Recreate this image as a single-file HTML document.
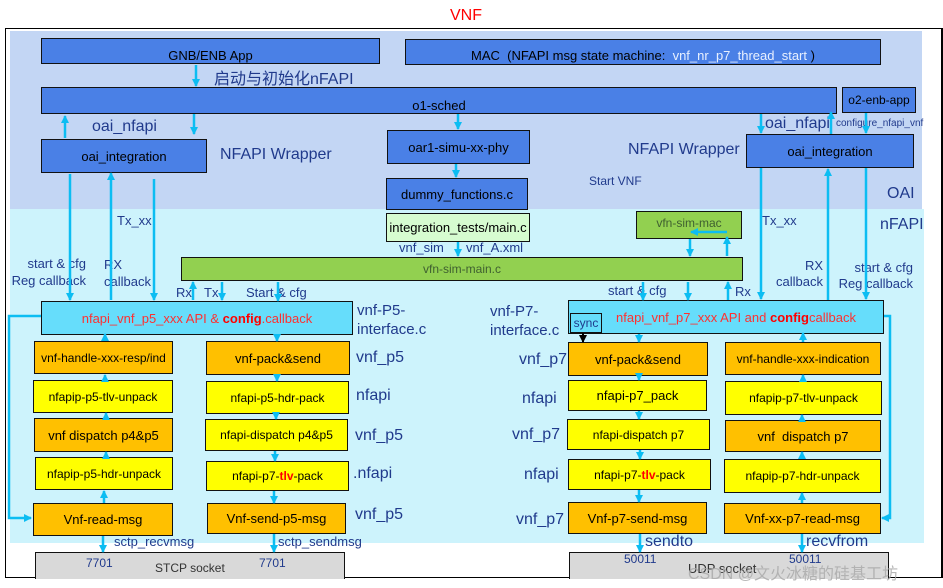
<!DOCTYPE html>
<html><head><meta charset="utf-8"><style>
*{margin:0;padding:0;box-sizing:border-box}
body{width:943px;height:588px;background:#fff;position:relative;overflow:hidden;font-family:"Liberation Sans","Noto Sans CJK SC",sans-serif}
.a{position:absolute}
.b{position:absolute;border:1.5px solid #111;display:flex;align-items:center;justify-content:center;font-size:13px;color:#000;white-space:nowrap}
.bl{background:#4a80e6}
.or{background:#ffc000}
.ye{background:#ffff00}
.cy{background:#66ddfb}
.gr{background:#92d050}
.t{position:absolute;color:#203a8c;font-size:13px;white-space:nowrap}
.big{font-size:16px}
.r{color:#ff0000;font-weight:bold}
</style></head><body>
<div class="a" style="left:450px;top:7px;color:#f00;font-size:16px">VNF</div>
<div class="a" style="left:5px;top:28px;width:938px;height:550px;border:1.5px solid #000;border-right:2px solid #000"></div>
<div class="a" style="left:10px;top:31px;width:912px;height:178px;background:#c3d6f4"></div>
<div class="a" style="left:10px;top:209px;width:914px;height:334px;background:#cdf3fc"></div>

<div class="b bl" style="left:41px;top:38px;width:339px;height:26px;padding-top:8px">GNB/ENB App</div>
<div class="b bl" style="left:405px;top:39px;width:476px;height:26px;padding-top:6px">MAC &nbsp;(NFAPI msg state machine: &nbsp;<span style="color:#e8f0ff">vnf_nr_p7_thread_start</span>&nbsp;)</div>
<div class="t big" style="left:214px;top:65px">启动与初始化nFAPI</div>
<div class="b bl" style="left:41px;top:87px;width:796px;height:27px;padding-top:9px">o1-sched</div>
<div class="b bl" style="left:842px;top:87px;width:74px;height:26px;font-size:12px">o2-enb-app</div>
<div class="t big" style="left:92px;top:118px">oai_nfapi</div>
<div class="t big" style="left:765px;top:115px">oai_nfapi</div>
<div class="t" style="left:836px;top:118px;font-size:10px">configure_nfapi_vnf</div>
<div class="b bl" style="left:41px;top:139px;width:166px;height:34px">oai_integration</div>
<div class="t big" style="left:220px;top:146px">NFAPI Wrapper</div>
<div class="b bl" style="left:387px;top:130px;width:143px;height:34px">oar1-simu-xx-phy</div>
<div class="b bl" style="left:386px;top:178px;width:142px;height:32px">dummy_functions.c</div>
<div class="t big" style="left:628px;top:141px">NFAPI Wrapper</div>
<div class="b bl" style="left:746px;top:134px;width:168px;height:34px">oai_integration</div>
<div class="t" style="left:589px;top:174px;font-size:12px">Start VNF</div>
<div class="t big" style="left:887px;top:185px">OAI</div>
<div class="t big" style="left:880px;top:216px">nFAPI</div>

<div class="b" style="left:386px;top:213px;width:144px;height:29px;background:#d6fcd0">integration_tests/main.c</div>
<div class="t" style="left:399px;top:240px">vnf_sim</div>
<div class="t" style="left:466px;top:240px">vnf_A.xml</div>
<div class="b gr" style="left:181px;top:257px;width:562px;height:24px;color:#3f6030;font-size:12px">vfn-sim-main.c</div>
<div class="b gr" style="left:636px;top:211px;width:106px;height:28px;color:#3f6030;font-size:12px;align-items:flex-start;padding-top:4px">vfn-sim-mac</div>

<div class="t" style="left:117px;top:213px">Tx_xx</div>
<div class="t" style="left:762px;top:213px">Tx_xx</div>
<div class="t" style="right:857px;top:255px;line-height:17px;text-align:right">start &amp; cfg<br>Reg callback</div>
<div class="t" style="left:104px;top:256px;line-height:17px">RX<br>callback</div>
<div class="t" style="right:120px;top:258px;line-height:16px;text-align:right">RX<br>callback</div>
<div class="t" style="right:30px;top:260px;line-height:16px;text-align:right">start &amp; cfg<br>Reg callback</div>
<div class="t" style="left:176px;top:285px">Rx</div>
<div class="t" style="left:204px;top:285px">Tx</div>
<div class="t" style="left:246px;top:285px">Start &amp; cfg</div>
<div class="t" style="left:608px;top:283px">start &amp; cfg</div>
<div class="t" style="left:735px;top:284px">Rx</div>

<div class="b cy" style="left:41px;top:301px;width:312px;height:34px;color:#ff3030">nfapi_vnf_p5_xxx API &amp;&nbsp;<span class="r">config</span><span style="color:#ff3030;font-weight:normal">.callback</span></div>
<div class="t" style="left:357px;top:301px;font-size:15px;line-height:19px">vnf-P5-<br>interface.c</div>
<div class="b cy" style="left:568px;top:300px;width:316px;height:34px;color:#ff3030;padding-left:20px">nfapi_vnf_p7_xxx API and&nbsp;<span class="r">config</span><span style="color:#ff3030">callback</span></div>
<div class="b cy" style="left:570px;top:313px;width:32px;height:20px;font-size:12px;color:#203a8c">sync</div>
<div class="t" style="left:490px;top:302px;font-size:15px;line-height:19px">vnf-P7-<br>interface.c</div>

<div class="b or" style="left:34px;top:341px;width:139px;height:33px;font-size:12px">vnf-handle-xxx-resp/ind</div>
<div class="b ye" style="left:33px;top:380px;width:140px;height:33px;font-size:12px">nfapip-p5-tlv-unpack</div>
<div class="b or" style="left:34px;top:418px;width:139px;height:34px">vnf dispatch p4&amp;p5</div>
<div class="b ye" style="left:35px;top:457px;width:138px;height:33px;font-size:12px">nfapip-p5-hdr-unpack</div>
<div class="b or" style="left:33px;top:503px;width:140px;height:33px">Vnf-read-msg</div>

<div class="b or" style="left:206px;top:341px;width:144px;height:34px">vnf-pack&amp;send</div>
<div class="b ye" style="left:206px;top:381px;width:143px;height:33px;font-size:12px">nfapi-p5-hdr-pack</div>
<div class="b ye" style="left:205px;top:419px;width:143px;height:32px;font-size:12px">nfapi-dispatch p4&amp;p5</div>
<div class="b ye" style="left:206px;top:461px;width:143px;height:30px;font-size:12px">nfapi-p7-<span class="r">tlv</span>-pack</div>
<div class="b or" style="left:207px;top:503px;width:139px;height:31px">Vnf-send-p5-msg</div>

<div class="t big" style="left:356px;top:349px">vnf_p5</div>
<div class="t big" style="left:356px;top:387px">nfapi</div>
<div class="t big" style="left:355px;top:427px">vnf_p5</div>
<div class="t big" style="left:353px;top:465px">.nfapi</div>
<div class="t big" style="left:355px;top:506px">vnf_p5</div>

<div class="b or" style="left:568px;top:342px;width:140px;height:34px">vnf-pack&amp;send</div>
<div class="b ye" style="left:568px;top:380px;width:139px;height:31px">nfapi-p7_pack</div>
<div class="b ye" style="left:567px;top:419px;width:143px;height:31px;font-size:12px">nfapi-dispatch p7</div>
<div class="b ye" style="left:568px;top:459px;width:143px;height:31px;font-size:12px">nfapi-p7-<span class="r">tlv</span>-pack</div>
<div class="b or" style="left:568px;top:502px;width:139px;height:32px">Vnf-p7-send-msg</div>

<div class="b or" style="left:725px;top:342px;width:156px;height:33px;font-size:12px">vnf-handle-xxx-indication</div>
<div class="b ye" style="left:725px;top:381px;width:157px;height:34px;font-size:12px">nfapip-p7-tlv-unpack</div>
<div class="b or" style="left:725px;top:420px;width:156px;height:32px">vnf &nbsp;dispatch p7</div>
<div class="b ye" style="left:724px;top:459px;width:157px;height:34px;font-size:12px">nfapip-p7-hdr-unpack</div>
<div class="b or" style="left:724px;top:503px;width:157px;height:31px">Vnf-xx-p7-read-msg</div>

<div class="t big" style="left:519px;top:351px">vnf_p7</div>
<div class="t big" style="left:522px;top:390px">nfapi</div>
<div class="t big" style="left:512px;top:426px">vnf_p7</div>
<div class="t big" style="left:524px;top:466px">nfapi</div>
<div class="t big" style="left:516px;top:511px">vnf_p7</div>

<div class="t" style="left:114px;top:534px">sctp_recvmsg</div>
<div class="t" style="left:278px;top:534px">sctp_sendmsg</div>
<div class="t big" style="left:645px;top:533px">sendto</div>
<div class="t big" style="left:806px;top:533px">recvfrom</div>

<div class="b" style="left:35px;top:552px;width:310px;height:27px;background:#d9d9d9;border-bottom:none"></div>
<div class="t" style="left:86px;top:556px;font-size:12px">7701</div>
<div class="t" style="left:155px;top:561px;font-size:12px;color:#333">STCP socket</div>
<div class="t" style="left:259px;top:556px;font-size:12px">7701</div>
<div class="b" style="left:569px;top:552px;width:320px;height:27px;background:#d9d9d9;border-bottom:none"></div>
<div class="t" style="left:624px;top:552px;font-size:12px">50011</div>
<div class="t" style="left:789px;top:552px;font-size:12px">50011</div>
<div class="t" style="left:688px;top:561px;font-size:13px;color:#333">UDP socket</div>
<div class="t" style="left:688px;top:560px;font-size:16px;color:rgba(170,170,170,.85)">CSDN @文火冰糖的硅基工坊</div>

<svg class="a" style="left:0;top:0" width="943" height="588">
<defs><marker id="m" markerWidth="8" markerHeight="8" refX="7" refY="4" orient="auto" markerUnits="userSpaceOnUse"><path d="M0,0L8,4L0,8z" fill="#0cbdf2"/></marker>
<marker id="k" markerWidth="8" markerHeight="8" refX="7" refY="4" orient="auto" markerUnits="userSpaceOnUse"><path d="M0,0L8,4L0,8z" fill="#000"/></marker></defs>
<g stroke="#0cbdf2" stroke-width="2.5" fill="none" marker-end="url(#m)">
<path d="M196 65V86"/><path d="M65 138V116"/><path d="M194 114V134"/>
<path d="M458 114V129"/><path d="M456 164V177"/><path d="M458 242V256"/>
<path d="M761 114V133"/><path d="M831 134V112"/><path d="M866 113V133"/>
<path d="M70 174V300"/><path d="M111 300V173"/><path d="M154 179V300"/>
<path d="M193 300V282"/><path d="M222 282V300"/><path d="M278 282V301"/>
<path d="M643 282V300"/><path d="M688 282V300"/><path d="M728 300V282"/>
<path d="M727 232H691"/><path d="M690 239V256"/><path d="M727 256V237"/>
<path d="M761 168V299"/><path d="M828 300V169"/><path d="M866 168V299"/>
<path d="M41 316H9V518H31"/><path d="M884 316H890V518H882"/>
<path d="M105 341V334"/><path d="M105 380V375"/><path d="M106 418V413"/><path d="M106 457V452"/><path d="M104 503V491"/>
<path d="M103 536V552"/>
<path d="M277 335V341"/><path d="M277 375V381"/><path d="M276 414V419"/><path d="M275 451V461"/><path d="M274 491V503"/><path d="M274 534V552"/>
<path d="M639 334V342"/><path d="M639 376V380"/><path d="M639 411V419"/><path d="M640 450V459"/><path d="M639 490V502"/><path d="M640 534V552"/>
<path d="M803 342V333"/><path d="M803 381V375"/><path d="M802 420V415"/><path d="M802 459V452"/><path d="M802 503V493"/><path d="M802 534V552"/>
</g>
<path d="M583 333V342" stroke="#000" stroke-width="2" marker-end="url(#k)"/>
</svg>
</body></html>
